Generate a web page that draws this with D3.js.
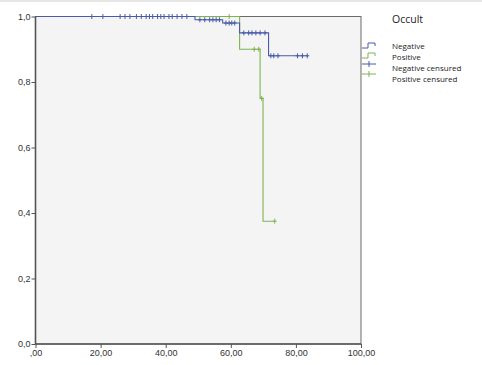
<!DOCTYPE html>
<html><head><meta charset="utf-8">
<script src="https://cdn.jsdelivr.net/npm/d3@7/dist/d3.min.js"></script>
<style>body{margin:0;background:#fff}svg{display:block}</style>
</head><body><svg id="c" width="482" height="365"></svg>
<script>
// Survival step functions: [time, survival after step]
const negSteps = [[0,1.0],[49,0.99],[57.5,0.98],[62.7,0.95],[71.6,0.88]];
const negEnd = 83.6;
const negCensored = [[17.3,1.0],[20.7,1.0],[26,1.0],[27.5,1.0],[29,1.0],[31,1.0],[32.5,1.0],[34,1.0],[35,1.0],[36,1.0],[37.5,1.0],[38.5,1.0],[39.5,1.0],[41,1.0],[42,1.0],[43.5,1.0],[45,1.0],[46.5,1.0],
  [50.5,0.99],[52,0.99],[53.5,0.99],[54.5,0.99],[55.5,0.99],[56.5,0.99],
  [58.5,0.98],[59.5,0.98],[60.3,0.98],[61.2,0.98],
  [64,0.95],[65.5,0.95],[66.5,0.95],[67.7,0.95],[69,0.95],[70.5,0.95],
  [72.3,0.88],[73.2,0.88],[74.5,0.88],[80.5,0.88],[82,0.88],[83.5,0.88]];
const posSteps = [[0,1.0],[62.7,0.90],[69.0,0.75],[69.9,0.375]];
const posEnd = 73.5;
const posCensored = [[59.5,1.0],[67.2,0.90],[68.6,0.90],[69.5,0.75],[73.5,0.375]];
const xTicks = [0,20,40,60,80,100];
const xTickLabels = [",00","20,00","40,00","60,00","80,00","100,00"];
const yTicks = [0,0.2,0.4,0.6,0.8,1.0];
const yTickLabels = ["0,0","0,2","0,4","0,6","0,8","1,0"];
const legendTitle = "Occult";
const legendItems = ["Negative","Positive","Negative censured","Positive censured"];

const blue = "#4a5aa8", green = "#7fb352";
const svg = d3.select("#c");
const x = d3.scaleLinear().domain([0,100]).range([35.5,361]);
const y = d3.scaleLinear().domain([0,1]).range([344,16.5]);

svg.append("rect").attr("x",0).attr("y",0).attr("width",482).attr("height",2).attr("fill","#e6e6e6");
svg.append("rect").attr("x",x(0)).attr("y",y(1)).attr("width",x(100)-x(0)).attr("height",y(0)-y(1))
  .attr("fill","#f4f4f4").attr("stroke","#6a6a6a").attr("stroke-width",1);

function stepPath(steps,end){
  const pts=[];
  steps.forEach((s,i)=>{
    if(i>0) pts.push([s[0],steps[i-1][1]]);
    pts.push(s);
  });
  pts.push([end,steps[steps.length-1][1]]);
  return d3.line().x(d=>x(d[0])).y(d=>y(d[1]))(pts);
}
svg.append("path").attr("d",stepPath(posSteps,posEnd)).attr("fill","none").attr("stroke",green).attr("stroke-width",1.1);
svg.append("path").attr("d",stepPath(negSteps,negEnd)).attr("fill","none").attr("stroke",blue).attr("stroke-width",1.1);

function censor(data,col){
  svg.append("g").selectAll("path").data(data).join("path")
    .attr("d",d=>`M${x(d[0])-2},${y(d[1])}h4M${x(d[0])},${y(d[1])-2.5}v5`)
    .attr("stroke",col).attr("stroke-width",1).attr("fill","none");
}
censor(posCensored,green);
censor(negCensored,blue);

// axes
const ax = svg.append("g").attr("transform",`translate(0,${y(0)})`)
  .call(d3.axisBottom(x).tickValues(xTicks).tickFormat((d,i)=>xTickLabels[i]).tickSize(4).tickPadding(2));
const ay = svg.append("g").attr("transform",`translate(${x(0)},0)`)
  .call(d3.axisLeft(y).tickValues(yTicks).tickFormat((d,i)=>yTickLabels[i]).tickSize(4).tickPadding(1));
[ax,ay].forEach(a=>{
  a.select(".domain").attr("stroke","#555").attr("stroke-width",1.6);
  a.selectAll(".tick line").attr("stroke","#555");
  a.selectAll("text").attr("fill","#333").style("font-family","Liberation Sans, Arial, sans-serif").style("font-size","9px");
});
ay.select(".domain").attr("d",`M0,${y(1)}V${y(0)}`);
ax.select(".domain").attr("d",`M${x(0)},0H${x(100)}`);

// legend
const lg = svg.append("g").style("font-family","Open Sans, sans-serif");
lg.append("text").attr("x",392).attr("y",23).text(legendTitle).attr("font-size","10.5px").attr("fill","#222");
const ly = [49,60,71,82];
legendItems.forEach((t,i)=>{
  lg.append("text").attr("x",392).attr("y",ly[i]).text(t).attr("font-size","8px").attr("fill","#222");
});
lg.append("path").attr("d",`M362,${ly[0]-1}h6v-5h7v3`).attr("stroke",blue).attr("fill","none");
lg.append("path").attr("d",`M362,${ly[1]-2}h6v-5h7v3`).attr("stroke",green).attr("fill","none");
lg.append("path").attr("d",`M362,${ly[2]-7}h14M369,${ly[2]-10}v6`).attr("stroke",blue).attr("fill","none");
lg.append("path").attr("d",`M362,${ly[3]-8}h14M369,${ly[3]-11}v6`).attr("stroke",green).attr("fill","none");
</script></body></html>
